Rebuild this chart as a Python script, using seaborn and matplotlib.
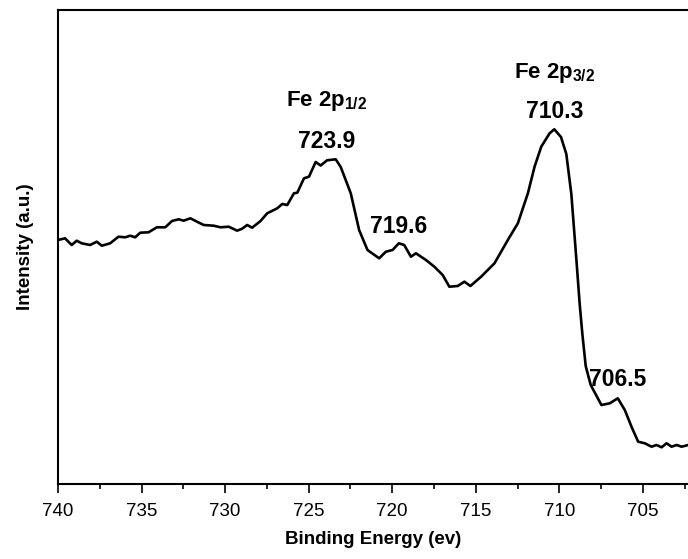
import matplotlib
matplotlib.use("Agg")
import matplotlib.pyplot as plt
from matplotlib.ticker import MultipleLocator
import seaborn as sns
import pandas as pd

# Fe 2p XPS spectrum
binding_energy = [
    740.00, 739.58, 739.18, 738.88, 738.58, 738.08, 737.68, 737.38, 736.88, 736.38,
    735.98, 735.68, 735.38, 735.08, 734.58, 734.08, 733.58, 733.18, 732.78, 732.48,
    732.08, 731.68, 731.28, 730.68, 730.28, 729.78, 729.28, 728.98, 728.68, 728.38,
    727.88, 727.48, 726.88, 726.58, 726.28, 725.88, 725.68, 725.28, 724.98, 724.58,
    724.28, 723.90, 723.38, 723.08, 722.48, 721.98, 721.48, 720.78, 720.38, 719.98,
    719.60, 719.28, 718.88, 718.58, 717.98, 717.48, 716.98, 716.58, 716.08, 715.68,
    715.32, 714.68, 713.88, 713.08, 712.48, 711.88, 711.48, 711.08, 710.58, 710.30,
    709.90, 709.58, 709.28, 708.98, 708.78, 708.62, 708.42, 708.12, 707.48, 706.98,
    706.50, 706.08, 705.68, 705.28, 704.88, 704.48, 704.18, 703.88, 703.58, 703.28,
    702.98, 702.68, 702.28, 702.00,
]
intensity = [
    244.0, 245.7, 239.0, 243.3, 240.7, 239.0, 242.3, 238.3, 240.7, 247.3,
    246.7, 248.3, 246.7, 251.3, 251.7, 256.7, 256.7, 263.0, 264.7, 263.3,
    265.7, 262.3, 259.0, 258.3, 256.7, 257.3, 253.3, 255.3, 259.0, 256.3,
    263.0, 270.7, 275.7, 280.0, 279.0, 290.7, 291.3, 305.7, 307.3, 322.0,
    318.5, 323.7, 324.7, 317.0, 290.7, 254.0, 234.0, 225.7, 232.3, 234.0,
    240.7, 239.0, 227.3, 230.7, 224.0, 217.3, 209.0, 197.3, 198.0, 202.3,
    198.0, 207.3, 220.7, 244.0, 260.7, 290.7, 317.3, 337.3, 350.7, 354.7,
    347.0, 330.0, 290.0, 225.0, 180.0, 150.0, 118.0, 99.0, 79.0, 80.7,
    85.7, 74.0, 57.3, 42.3, 40.7, 37.3, 39.0, 36.7, 40.7, 37.3,
    39.0, 37.3, 39.0, 38.0,
]

# Peak annotations: (label, energy, intensity position)
peak_labels = ["723.9", "719.6", "710.3", "706.5"]
peak_energy = [723.9, 719.6, 710.3, 706.5]
peak_text_y = [343, 258, 373, 105]

orbital_labels = [r"Fe 2p$_{\mathbf{1/2}}$", r"Fe 2p$_{\mathbf{3/2}}$"]
orbital_energy = [723.9, 710.3]
orbital_text_y = [383, 411]

x_ticks = [740, 735, 730, 725, 720, 715, 710, 705]

sns.set_theme(style="ticks")
plt.rcParams["font.family"] = ["Liberation Sans", "DejaVu Sans"]
plt.rcParams["mathtext.fontset"] = "custom"
plt.rcParams["mathtext.rm"] = "Liberation Sans"
plt.rcParams["mathtext.bf"] = "Liberation Sans:bold"
plt.rcParams["text.color"] = "black"
plt.rcParams["axes.labelcolor"] = "black"
plt.rcParams["xtick.color"] = "black"
plt.rcParams["xtick.labelcolor"] = "black"

df = pd.DataFrame({"Binding Energy": binding_energy, "Intensity": intensity})

fig = plt.figure(figsize=(6.88, 5.59), dpi=100)
ax = fig.add_axes([58 / 688, 75 / 559, 631 / 688, 474 / 559])

sns.lineplot(data=df, x="Binding Energy", y="Intensity", sort=False,
             color="black", linewidth=1.9, ax=ax)

ax.set_xlim(740, 740 - 631 / 16.71)
ax.set_ylim(0, 474)
ax.set_xticks(x_ticks)
ax.set_xticklabels([str(t) for t in x_ticks])
ax.xaxis.set_minor_locator(MultipleLocator(2.5))
ax.set_yticks([])

for side in ["left", "top", "bottom"]:
    ax.spines[side].set_visible(True)
    ax.spines[side].set_linewidth(1.5)
    ax.spines[side].set_color("black")
ax.spines["right"].set_visible(False)

ax.tick_params(axis="x", which="major", direction="out", length=6.5, width=1.2,
               labelsize=13.5, pad=7, colors="black", top=False)
ax.tick_params(axis="x", which="minor", direction="out", length=3.6, width=1.2,
               colors="black", top=False)

ax.set_xlabel("Binding Energy (ev)", fontsize=13.5, fontweight="bold",
              labelpad=8, color="black")
ax.set_ylabel("Intensity (a.u.)", fontsize=13.5, fontweight="bold",
              labelpad=17, color="black")

for lab, e, y in zip(peak_labels, peak_energy, peak_text_y):
    ax.text(e, y, lab, ha="center", va="center", fontsize=16.5,
            fontweight="bold", color="black")

for lab, e, y in zip(orbital_labels, orbital_energy, orbital_text_y):
    ax.text(e, y, lab, ha="center", va="center", fontsize=16,
            fontweight="bold", color="black")

fig.savefig("out.png", dpi=100)
